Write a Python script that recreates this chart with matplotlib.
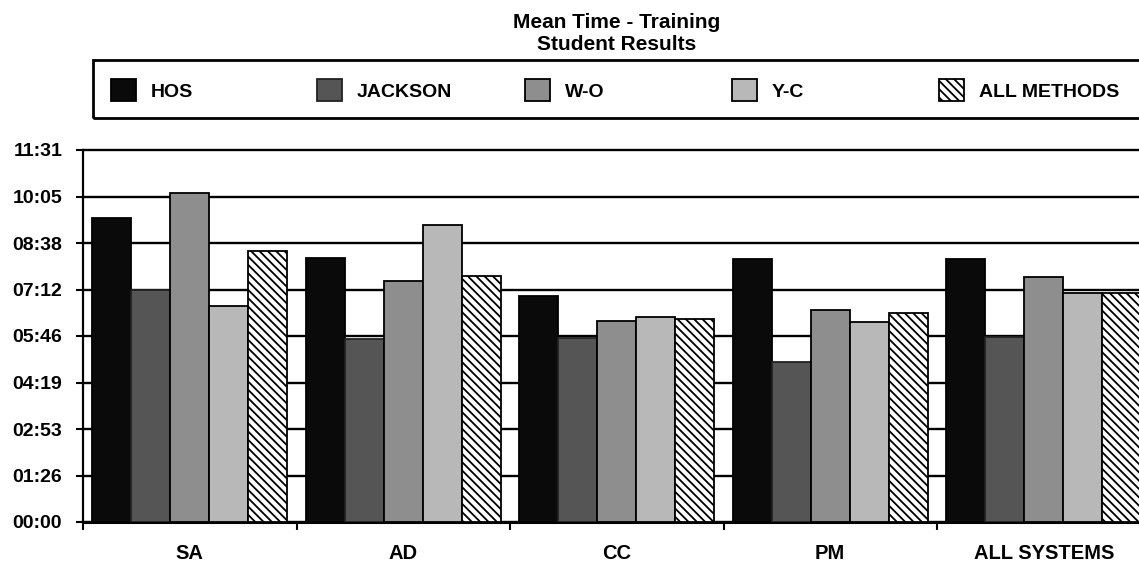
import matplotlib
matplotlib.use("Agg")
import matplotlib.pyplot as plt
from matplotlib.patches import Rectangle
import numpy as np

# ---- data (mean time in seconds) ----
categories = ["SA", "AD", "CC", "PM", "ALL SYSTEMS"]
series_names = ["HOS", "JACKSON", "W-O", "Y-C", "ALL METHODS"]
hos = [565, 491, 420, 489, 488]
jackson = [431, 340, 341, 297, 344]
wo = [612, 448, 374, 394, 455]
yc = [402, 552, 380, 371, 425]
all_methods = [503, 457, 378, 388, 425]
ytick_values = [0, 86.4, 172.8, 259.2, 345.6, 432.0, 518.4, 604.8, 691.2]
ytick_labels = ["00:00", "01:26", "02:53", "04:19", "05:46", "07:12", "08:38", "10:05", "11:31"]
title_line1 = "Mean Time - Training"
title_line2 = "Student Results"

plt.rcParams["font.family"] = ["Liberation Sans", "DejaVu Sans"]
plt.rcParams["hatch.linewidth"] = 1.3

W, H = 1139, 567
fig = plt.figure(figsize=(W / 100, H / 100), dpi=100)
ax_left, ax_bottom_px, ax_top_px = 83, 522, 150
ax = fig.add_axes([ax_left / W, 1 - ax_bottom_px / H, 1 - ax_left / W, (ax_bottom_px - ax_top_px) / H])

series = [hos, jackson, wo, yc, all_methods]
styles = [
    dict(color="#0a0a0a", edgecolor="black"),
    dict(color="#555555", edgecolor="#222222"),
    dict(color="#8e8e8e", edgecolor="black"),
    dict(color="#b8b8b8", edgecolor="black"),
    dict(color="white", edgecolor="black", hatch="\\\\\\\\"),
]
x = np.arange(len(categories))
bw = 0.183
handles = []
for i, (vals, st) in enumerate(zip(series, styles)):
    b = ax.bar(x + (i - 2) * bw, vals, width=bw, linewidth=1.3, zorder=3, **st)
    handles.append(b)

group_w_px = 213.5
ax.set_xlim(-0.5, -0.5 + (W - ax_left) / group_w_px)
ax.set_ylim(0, ytick_values[-1])

ax.set_yticks(ytick_values)
ax.set_yticklabels(ytick_labels, fontsize=14, fontweight="bold")
ax.yaxis.grid(True, color="black", linewidth=1.7, zorder=0)
ax.set_axisbelow(True)
ax.tick_params(axis="y", length=5, width=1.5, direction="out", pad=10)
for gl in ax.get_ygridlines():
    gl.set_clip_on(False)

ax.set_xticks(np.arange(-0.5, len(categories) - 0.5, 1.0))
ax.set_xticklabels([])
ax.set_xticks(x, minor=True)
ax.set_xticklabels(categories, minor=True, fontsize=14.5, fontweight="bold")
ax.tick_params(axis="x", which="major", length=6, width=1.5, direction="out")
ax.tick_params(axis="x", which="minor", length=0, pad=16)

for s in ["top", "right"]:
    ax.spines[s].set_visible(False)
ax.spines["left"].set_linewidth(1.6)
ax.spines["bottom"].set_linewidth(2.2)

# titles
cx = (ax_left + ax_left + 5 * group_w_px) / 2 / W
fig.text(cx, 1 - 23 / H, title_line1, ha="center", va="center", fontsize=15, fontweight="bold")
fig.text(cx, 1 - 45 / H, title_line2, ha="center", va="center", fontsize=15, fontweight="bold")

# legend frame
fig.patches.append(Rectangle((93 / W, 1 - 118 / H), (1150 - 93) / W, 58 / H,
                             transform=fig.transFigure, fill=False, edgecolor="black",
                             linewidth=2.0, clip_on=False))
leg_x = [111, 317, 525, 732, 939]
for h, name, lx in zip(handles, series_names, leg_x):
    fig.legend([h], [name], loc="center left", bbox_to_anchor=(lx / W, 1 - 90 / H),
               frameon=False, borderpad=0, borderaxespad=0, handlelength=1.3,
               handleheight=1.3, handletextpad=0.75, prop=dict(size=14, weight="bold"))

fig.savefig("out.png", dpi=100)
